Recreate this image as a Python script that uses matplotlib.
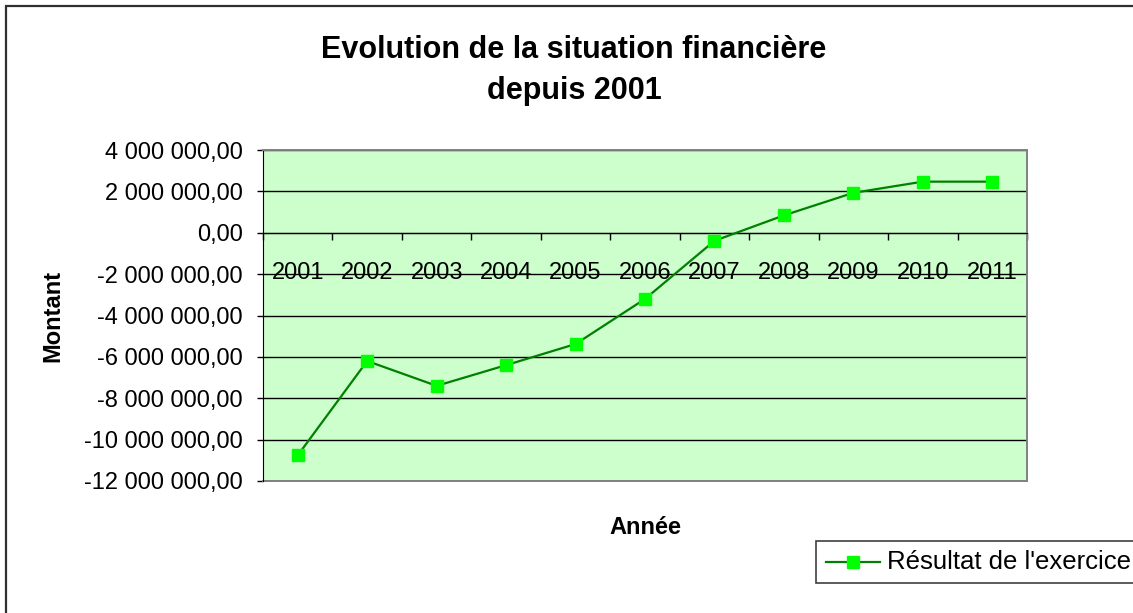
import matplotlib
matplotlib.use('Agg')
import matplotlib.pyplot as plt
from matplotlib.ticker import FuncFormatter, FixedLocator
from matplotlib.patches import Rectangle
from matplotlib.lines import Line2D

annees = ['2001', '2002', '2003', '2004', '2005', '2006',
          '2007', '2008', '2009', '2010', '2011']
resultat = [-10760000, -6200000, -7400000, -6400000, -5380000, -3200000,
            -390000, 840000, 1930000, 2470000, 2470000]
yticks = [4e6, 2e6, 0, -2e6, -4e6, -6e6, -8e6, -10e6, -12e6]


def fmt_montant(v, pos=None):
    s = '{:,.2f}'.format(abs(v)).replace(',', ' ').replace('.', ',')
    return ('-' if v < 0 else '') + s


plt.rcParams['font.family'] = ['Liberation Sans', 'DejaVu Sans']

W, H = 1133, 613
fig = plt.figure(figsize=(W / 100, H / 100), dpi=100)

# outer chart frame (only left/top edges visible in the picture)
fig.patches.append(Rectangle((6 / W, -0.1), 1.2, 1 - 6 / H + 0.1,
                             transform=fig.transFigure, fill=False,
                             edgecolor='#303030', linewidth=1.6))

ax = fig.add_axes([263 / W, 1 - 481 / H, (1027 - 263) / W, (481 - 150) / H])
ax.set_facecolor('#ccffcc')

x = list(range(len(annees)))
ax.plot(x, resultat, color='#008000', linewidth=1.6, marker='s',
        markersize=9, markerfacecolor='#00ff00', markeredgecolor='#00ff00',
        zorder=3)

ax.set_xlim(-0.5, len(annees) - 0.5)
ax.set_ylim(-12e6, 4e6)
ax.set_yticks(yticks)
ax.yaxis.set_major_formatter(FuncFormatter(fmt_montant))
ax.grid(axis='y', color='black', linewidth=1.0)
ax.set_axisbelow(True)

# category axis crossing at zero
ax.spines['bottom'].set_position(('data', 0))
ax.spines['bottom'].set_color('black')
ax.spines['left'].set_color('black')
for s in ('top', 'right'):
    ax.spines[s].set_color('#808080')
    ax.spines[s].set_linewidth(1.4)
ax.axhline(-12e6, color='#808080', linewidth=1.4, clip_on=False)

ax.xaxis.set_major_locator(FixedLocator([i - 0.5 for i in range(len(annees) + 1)]))
ax.xaxis.set_minor_locator(FixedLocator(x))
ax.set_xticklabels([], minor=False)
ax.set_xticklabels(annees, minor=True)
ax.tick_params(axis='x', which='major', direction='out', length=5, width=1)
ax.tick_params(axis='x', which='minor', length=0, pad=21, labelsize=17)
ax.tick_params(axis='y', direction='out', length=4.5, width=1, labelsize=17, pad=10)

fig.text(574 / W, 1 - 58 / H, 'Evolution de la situation financière',
         ha='center', va='baseline', fontsize=22, fontweight='bold')
fig.text(574 / W, 1 - 99 / H, 'depuis 2001',
         ha='center', va='baseline', fontsize=22, fontweight='bold')
fig.text(53 / W, 1 - 316 / H, 'Montant', rotation=90, ha='center',
         va='center', fontsize=17, fontweight='bold')
fig.text(645 / W, 1 - 527 / H, 'Année', ha='center', va='center',
         fontsize=17, fontweight='bold')

# legend box, cut by the right edge like in the reference
fig.patches.append(Rectangle((816 / W, 1 - 583 / H), 0.4, 42 / H,
                             transform=fig.transFigure, facecolor='white',
                             edgecolor='#404040', linewidth=1.2))
fig.lines.append(Line2D([826 / W, 880 / W], [1 - 562 / H, 1 - 562 / H],
                        transform=fig.transFigure, color='#008000',
                        linewidth=1.6))
fig.lines.append(Line2D([853 / W], [1 - 562 / H], transform=fig.transFigure,
                        marker='s', markersize=8, color='#00ff00'))
fig.text(887 / W, 1 - 562 / H, "Résultat de l'exercice", ha='left',
         va='center', fontsize=18.5)

fig.savefig('out.png', dpi=100)
